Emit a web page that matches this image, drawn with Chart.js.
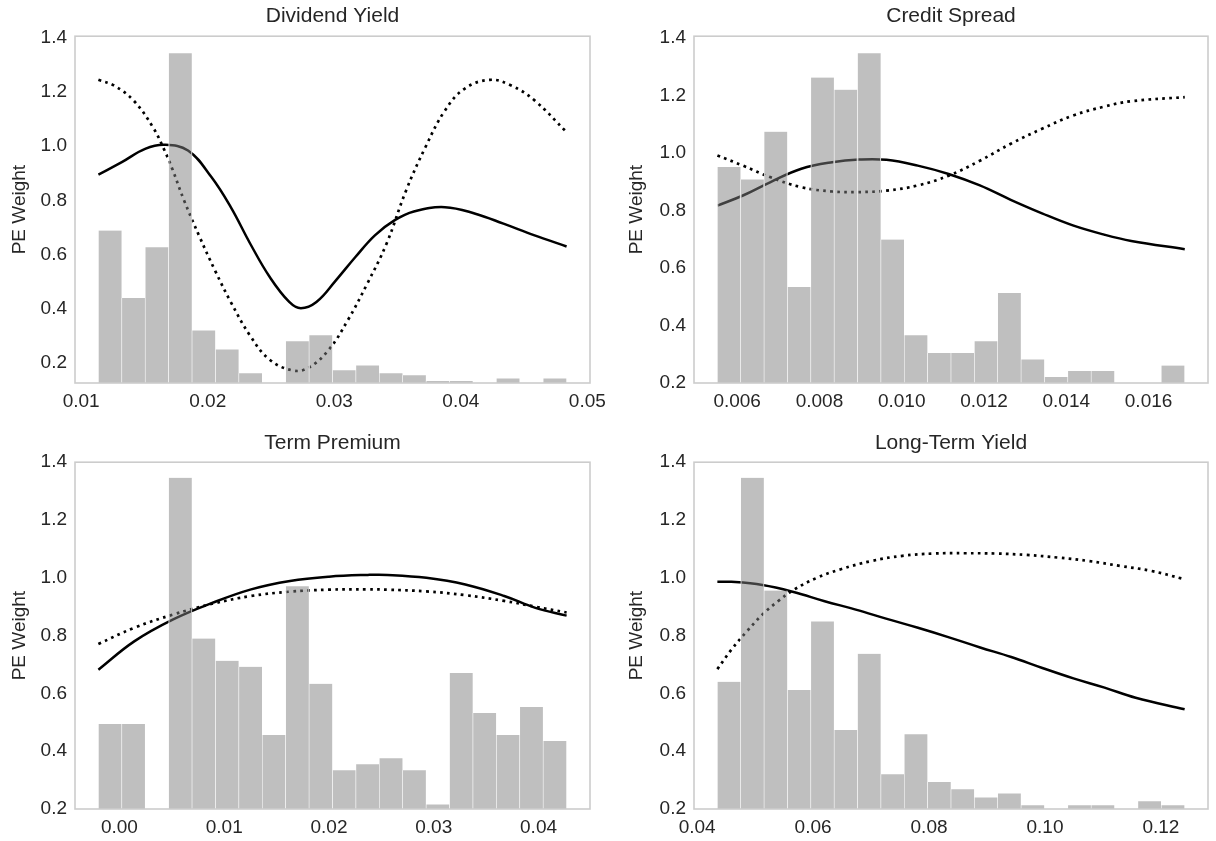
<!DOCTYPE html>
<html>
<head>
<meta charset="utf-8">
<script src="https://cdn.jsdelivr.net/npm/chart.js@4.4.1/dist/chart.umd.min.js"></script>
<style>
  body { margin: 0; background: #ffffff; }
  canvas { position: absolute; }
</style>
</head>
<body>
<canvas id="dividend" width="608" height="420" style="left:0;top:0"></canvas>
<canvas id="credit" width="608" height="420" style="left:608px;top:0"></canvas>
<canvas id="term" width="608" height="421" style="left:0;top:420px"></canvas>
<canvas id="longYield" width="608" height="421" style="left:608px;top:420px"></canvas>
<script>
// histogram bins: first edge, last edge, 20 bins each (null = empty bin)
const dividendBins = [0.01136, 0.04836];
const dividendHist = [0.689, 0.440, 0.627, 1.343, 0.320, 0.250, 0.162, null, 0.280, 0.302,
                      0.173, 0.191, 0.162, 0.155, 0.133, 0.133, null, 0.143, null, 0.143];
const dividendSolidX = [0.01136, 0.01321, 0.01505, 0.01659, 0.01844, 0.02029, 0.02182, 0.02336, 0.02490, 0.02644, 0.02736,
                        0.02859, 0.03013, 0.03167, 0.03321, 0.03475, 0.03629, 0.03875, 0.04121, 0.04337, 0.04583, 0.04836];
const dividendSolidY = [0.895, 0.941, 0.990, 1.005, 0.984, 0.886, 0.775, 0.640, 0.517, 0.425, 0.402,
                        0.425, 0.505, 0.591, 0.671, 0.726, 0.759, 0.775, 0.750, 0.714, 0.671, 0.630];
const dividendDotX = [0.01136, 0.01259, 0.01413, 0.01567, 0.01659, 0.01721, 0.01813, 0.01936, 0.02059, 0.02182, 0.02336, 0.02490, 0.02675,
                      0.02798, 0.02952, 0.03106, 0.03260, 0.03413, 0.03567, 0.03721, 0.03875, 0.04029, 0.04229, 0.04398, 0.04583, 0.04836];
const dividendDotY = [1.245, 1.224, 1.169, 1.070, 0.984, 0.915, 0.800, 0.665, 0.540, 0.425, 0.300, 0.212, 0.172,
                      0.183, 0.246, 0.357, 0.492, 0.640, 0.836, 0.997, 1.132, 1.212, 1.245, 1.224, 1.169, 1.052];

const creditBins = [0.005519, 0.016877];
const creditHist = [0.951, 0.908, 1.074, 0.534, 1.262, 1.220, 1.347, 0.699, 0.366, 0.304,
                    0.304, 0.345, 0.513, 0.282, 0.221, 0.242, 0.242, null, null, 0.261];
const creditX = [0.00552, 0.00614, 0.00680, 0.00756, 0.00831, 0.00897, 0.00963, 0.01039,
                 0.01114, 0.01190, 0.01265, 0.01341, 0.01416, 0.01492, 0.01558, 0.01688];
const creditSolidY = [0.817, 0.852, 0.898, 0.945, 0.968, 0.977, 0.976, 0.956,
                      0.927, 0.887, 0.837, 0.790, 0.748, 0.716, 0.694, 0.665];
const creditDotY = [0.991, 0.956, 0.916, 0.881, 0.866, 0.864, 0.869, 0.887,
                    0.921, 0.973, 1.032, 1.084, 1.130, 1.161, 1.180, 1.194];

const termBins = [-0.002007, 0.042677];
const termHist = [0.494, 0.494, null, 1.346, 0.790, 0.713, 0.692, 0.456, 0.971, 0.633,
                  0.334, 0.355, 0.376, 0.334, 0.216, 0.671, 0.532, 0.456, 0.553, 0.435];
const termX = [-0.00201, 0.00141, 0.00513, 0.00885, 0.01257, 0.01628, 0.02000,
               0.02372, 0.02558, 0.02929, 0.03301, 0.03673, 0.03970, 0.04268];
const termSolidY = [0.682, 0.780, 0.856, 0.913, 0.960, 0.989, 1.004,
                    1.010, 1.010, 1.000, 0.977, 0.937, 0.896, 0.869];
const termDotY = [0.771, 0.827, 0.873, 0.910, 0.937, 0.952, 0.959,
                  0.960, 0.959, 0.953, 0.940, 0.920, 0.900, 0.880];

const longBins = [0.04349, 0.12409];
const longHist = [0.640, 1.346, 0.956, 0.612, 0.849, 0.473, 0.737, 0.320, 0.459, 0.293,
                  0.268, 0.240, 0.254, 0.213, null, 0.213, 0.213, null, 0.227, 0.213];
const longSolidX = [0.04349, 0.04590, 0.05127, 0.05663, 0.06200, 0.06736, 0.07273, 0.07809,
                    0.08345, 0.08882, 0.09418, 0.09955, 0.10491, 0.11028, 0.11564, 0.12409];
const longSolidY = [0.986, 0.986, 0.975, 0.951, 0.919, 0.890, 0.858, 0.827,
                    0.794, 0.759, 0.726, 0.688, 0.652, 0.620, 0.585, 0.545];
const longDotX = [0.04349, 0.04590, 0.04859, 0.05127, 0.05395, 0.05663, 0.06066, 0.06468, 0.07004, 0.07541,
                  0.08077, 0.08614, 0.09150, 0.09687, 0.10223, 0.10759, 0.11296, 0.11832, 0.12369];
const longDotY = [0.684, 0.751, 0.815, 0.873, 0.919, 0.958, 1.000, 1.029, 1.058, 1.076,
                  1.084, 1.085, 1.084, 1.079, 1.070, 1.058, 1.041, 1.024, 0.997];

const textColor = "#262626";
Chart.defaults.font.family = "'Liberation Sans', Arial, sans-serif";
Chart.defaults.color = textColor;

// light grey box around each plot area
const framePlugin = {
  id: "frame",
  afterDraw(chart) {
    const a = chart.chartArea;
    const c = chart.ctx;
    c.save();
    c.strokeStyle = "#cccccc";
    c.lineWidth = 1.6;
    c.strokeRect(a.left, a.top, a.right - a.left, a.bottom - a.top);
    c.restore();
  }
};

function toPoints(xs, ys) {
  return xs.map((x, i) => ({ x: x, y: ys[i] }));
}

function makePanel(id, p) {
  const width = (p.bins[1] - p.bins[0]) / p.hist.length;
  const centers = p.hist.map((_, i) => p.bins[0] + width * (i + 0.5));
  const span = p.bins[1] - p.bins[0];

  new Chart(document.getElementById(id), {
    type: "bar",
    data: {
      datasets: [
        {
          type: "bar",
          data: toPoints(centers, p.hist),
          backgroundColor: "rgba(128, 128, 128, 0.5)",
          borderColor: "rgba(255, 255, 255, 0.9)",
          borderWidth: { left: 0.6, right: 0.6, top: 0, bottom: 0 },
          barPercentage: 1,
          categoryPercentage: 1,
          base: p.yMin,
          order: 0
        },
        {
          type: "line",
          data: toPoints(p.solidX, p.solidY),
          borderColor: "#000000",
          borderWidth: 2.5,
          pointRadius: 0,
          tension: 0.4,
          order: 1
        },
        {
          type: "line",
          data: toPoints(p.dotX, p.dotY),
          borderColor: "#000000",
          borderWidth: 2.7,
          borderDash: [2.7, 4.3],
          borderCapStyle: "butt",
          pointRadius: 0,
          tension: 0.4,
          order: 1
        }
      ]
    },
    options: {
      responsive: false,
      animation: false,
      layout: { padding: { left: 0, right: p.padRight, top: 0, bottom: 0 } },
      plugins: {
        legend: { display: false },
        tooltip: { enabled: false },
        title: {
          display: true,
          text: p.title,
          fullSize: false,
          color: textColor,
          font: { size: 21, weight: "normal" },
          padding: p.titlePad
        }
      },
      scales: {
        x: {
          type: "linear",
          offset: false,
          min: p.bins[0] - 0.05 * span,
          max: p.bins[1] + 0.05 * span,
          grid: { display: false, drawTicks: false, offset: false },
          border: { display: false },
          ticks: {
            stepSize: p.xStep,
            includeBounds: false,
            padding: 7,
            maxRotation: 0,
            color: textColor,
            font: { size: 19 },
            callback: v => Number(v).toFixed(p.xDigits)
          },
          afterFit: s => {
            s.height = p.xHeight;
            s.paddingLeft = 0;
            s.paddingRight = 0;
          }
        },
        y: {
          min: p.yMin,
          max: p.yMax,
          grid: { display: false, drawTicks: false },
          border: { display: false },
          ticks: {
            stepSize: 0.2,
            includeBounds: false,
            padding: 8,
            color: textColor,
            font: { size: 19 },
            callback: v => Number(v).toFixed(1)
          },
          title: {
            display: true,
            text: "PE Weight",
            color: textColor,
            font: { size: 19 },
            padding: { top: p.yTitlePad, bottom: 0 }
          },
          afterFit: s => {
            s.width = p.yWidth;
            s.paddingTop = 0;
            s.paddingBottom = 0;
          }
        }
      }
    },
    plugins: [framePlugin]
  });
}

makePanel("dividend", {
  title: "Dividend Yield", bins: dividendBins, hist: dividendHist,
  solidX: dividendSolidX, solidY: dividendSolidY, dotX: dividendDotX, dotY: dividendDotY,
  yMin: 0.126, yMax: 1.406, xStep: 0.01, xDigits: 2,
  yWidth: 75, xHeight: 37, padRight: 18, titlePad: { top: 4, bottom: 7 }, yTitlePad: 8
});

makePanel("credit", {
  title: "Credit Spread", bins: creditBins, hist: creditHist,
  solidX: creditX, solidY: creditSolidY, dotX: creditX, dotY: creditDotY,
  yMin: 0.2, yMax: 1.406, xStep: 0.002, xDigits: 3,
  yWidth: 86, xHeight: 37, padRight: 8, titlePad: { top: 4, bottom: 7 }, yTitlePad: 17
});

makePanel("term", {
  title: "Term Premium", bins: termBins, hist: termHist,
  solidX: termX, solidY: termSolidY, dotX: termX, dotY: termDotY,
  yMin: 0.2, yMax: 1.4, xStep: 0.01, xDigits: 2,
  yWidth: 75, xHeight: 32, padRight: 18, titlePad: { top: 11, bottom: 6 }, yTitlePad: 8
});

makePanel("longYield", {
  title: "Long-Term Yield", bins: longBins, hist: longHist,
  solidX: longSolidX, solidY: longSolidY, dotX: longDotX, dotY: longDotY,
  yMin: 0.2, yMax: 1.4, xStep: 0.02, xDigits: 2,
  yWidth: 86, xHeight: 32, padRight: 8, titlePad: { top: 11, bottom: 6 }, yTitlePad: 17
});
</script>
</body>
</html>
